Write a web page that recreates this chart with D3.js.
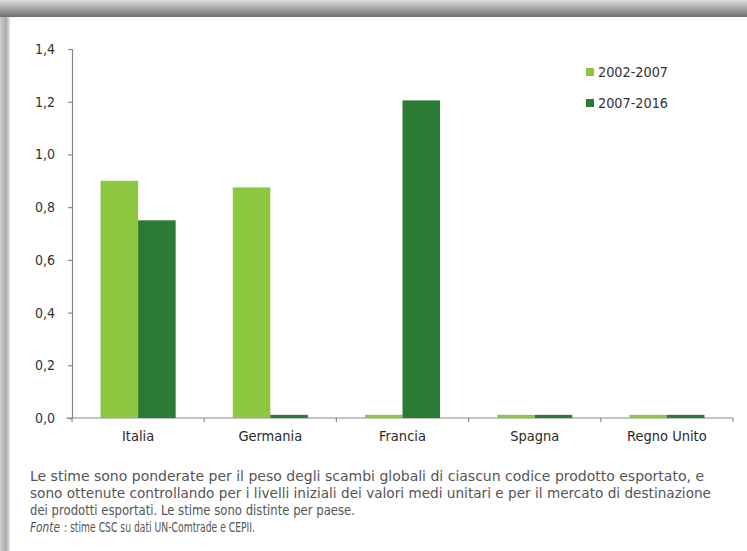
<!DOCTYPE html>
<html>
<head>
<meta charset="utf-8">
<script src="https://cdn.jsdelivr.net/npm/d3@7"></script>
<style>
  html, body { margin: 0; padding: 0; background: #fff; }
  svg { display: block; }
</style>
</head>
<body>
<svg id="chart" width="747" height="551"></svg>
<script>
// Countries and the two estimation periods
const countries = ["Italia", "Germania", "Francia", "Spagna", "Regno Unito"];
const periods = ["2002-2007", "2007-2016"];
const values2002_2007 = [0.90, 0.875, 0.012, 0.012, 0.012];
const values2007_2016 = [0.75, 0.012, 1.205, 0.012, 0.012];
const yTicks = [0, 0.2, 0.4, 0.6, 0.8, 1.0, 1.2, 1.4];
const notes = [
  "Le stime sono ponderate per il peso degli scambi globali di ciascun codice prodotto esportato, e",
  "sono ottenute controllando per i livelli iniziali dei valori medi unitari e per il mercato di destinazione",
  "dei prodotti esportati. Le stime sono distinte per paese."
];
const sourceLabel = "Fonte";
const sourceText = ": stime CSC su dati UN-Comtrade e CEPII.";

const colors = { "2002-2007": "#8dc63f", "2007-2016": "#2b7a35" };
const FONT = "'DejaVu Sans Condensed', 'Liberation Sans Narrow', 'Roboto', sans-serif";

const svg = d3.select("#chart");
const W = 747, H = 551;

// Frame: grey gradient band on top and soft shadow on the left
const defs = svg.append("defs");
const gTop = defs.append("linearGradient").attr("id", "topband").attr("x1", 0).attr("y1", 0).attr("x2", 0).attr("y2", 1);
gTop.append("stop").attr("offset", "0%").attr("stop-color", "#dcdcdc");
gTop.append("stop").attr("offset", "100%").attr("stop-color", "#6f6f6f");
const gLeft = defs.append("linearGradient").attr("id", "leftband").attr("x1", 0).attr("y1", 0).attr("x2", 1).attr("y2", 0);
gLeft.append("stop").attr("offset", "0%").attr("stop-color", "#cfcfcf");
gLeft.append("stop").attr("offset", "60%").attr("stop-color", "#a9a9a9");
gLeft.append("stop").attr("offset", "100%").attr("stop-color", "#e8e8e8");

svg.append("rect").attr("x", 0).attr("y", 0).attr("width", W).attr("height", H).attr("fill", "#fff");
svg.append("rect").attr("x", 0).attr("y", 0).attr("width", 10).attr("height", H).attr("fill", "url(#leftband)");
svg.append("rect").attr("x", 0).attr("y", 0).attr("width", W).attr("height", 17).attr("fill", "url(#topband)");

// Plot area
const plot = { left: 72, right: 733, top: 49, bottom: 418 };

const x0 = d3.scaleBand().domain(countries).range([plot.left, plot.right]).paddingInner(0).paddingOuter(0);
const x1 = d3.scaleBand().domain(periods).range([0, x0.bandwidth()]).paddingInner(0).paddingOuter(0.76);
const y = d3.scaleLinear().domain([0, 1.4]).range([plot.bottom, plot.top]);

const axisColor = "#8a8a8a";

// Y axis
const yAxis = svg.append("g")
  .attr("transform", `translate(${plot.left},0)`)
  .call(d3.axisLeft(y).tickValues(yTicks).tickSize(4).tickPadding(13)
    .tickFormat(d => d3.format(".1f")(d).replace(".", ",")));
yAxis.select(".domain").attr("stroke", axisColor).attr("stroke-width", 1.2);
yAxis.selectAll(".tick line").attr("stroke", axisColor).attr("stroke-width", 1.2);
yAxis.selectAll(".tick text").attr("fill", "#333").style("font-family", FONT).style("font-size", "14px");

// X axis with boundary ticks between groups
const xAxisG = svg.append("g").attr("transform", `translate(0,${plot.bottom})`);
xAxisG.append("line").attr("x1", plot.left - 6).attr("x2", plot.right)
  .attr("stroke", axisColor).attr("stroke-width", 1.2);
const bounds = countries.map(c => x0(c)).concat([x0(countries[countries.length - 1]) + x0.bandwidth()]);
xAxisG.selectAll("line.b").data(bounds).enter().append("line").attr("class", "b")
  .attr("x1", d => d).attr("x2", d => d).attr("y1", 0).attr("y2", 4)
  .attr("stroke", axisColor).attr("stroke-width", 1.2);
xAxisG.selectAll("text").data(countries).enter().append("text")
  .attr("x", d => x0(d) + x0.bandwidth() / 2)
  .attr("y", 23)
  .attr("text-anchor", "middle")
  .attr("fill", "#2a2a2a")
  .style("font-family", FONT).style("font-size", "14.5px")
  .text(d => d);

// Bars
const rows = countries.map((c, i) => ({
  country: c,
  vals: [
    { period: periods[0], value: values2002_2007[i] },
    { period: periods[1], value: values2007_2016[i] }
  ]
}));
const groups = svg.append("g").selectAll("g").data(rows).enter().append("g")
  .attr("transform", d => `translate(${x0(d.country)},0)`);
groups.selectAll("rect").data(d => d.vals).enter().append("rect")
  .attr("x", d => x1(d.period))
  .attr("width", x1.bandwidth())
  .attr("y", d => y(d.value))
  .attr("height", d => y(0) - y(d.value))
  .attr("fill", d => colors[d.period]);

// Legend
const legend = svg.append("g").attr("transform", "translate(586,68)");
const li = legend.selectAll("g").data(periods).enter().append("g")
  .attr("transform", (d, i) => `translate(0,${i * 31})`);
li.append("rect").attr("width", 8).attr("height", 8).attr("fill", d => colors[d]);
li.append("text").attr("x", 12).attr("y", 9).attr("fill", "#333")
  .attr("textLength", 70).attr("lengthAdjust", "spacingAndGlyphs")
  .style("font-family", FONT).style("font-size", "14.5px").text(d => d);

// Notes under the chart
const noteG = svg.append("g").style("font-family", FONT).style("font-size", "14px").attr("fill", "#555");
const noteWidths = [674, 681, 325];
notes.forEach((t, i) => {
  noteG.append("text").attr("x", 30).attr("y", 481 + i * 17)
    .attr("textLength", noteWidths[i]).attr("lengthAdjust", "spacingAndGlyphs").text(t);
});
noteG.append("text").attr("x", 30).attr("y", 532)
  .attr("textLength", 30).attr("lengthAdjust", "spacingAndGlyphs")
  .style("font-style", "italic").text(sourceLabel);
noteG.append("text").attr("x", 64).attr("y", 532)
  .attr("textLength", 191).attr("lengthAdjust", "spacingAndGlyphs")
  .text(sourceText);
</script>
</body>
</html>
